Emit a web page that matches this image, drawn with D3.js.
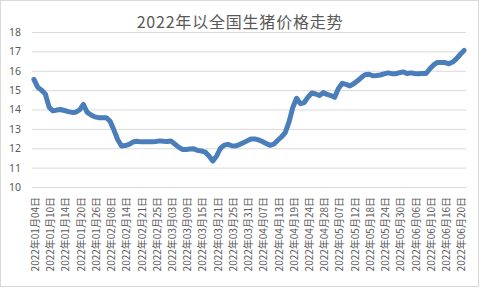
<!DOCTYPE html>
<html>
<head>
<meta charset="utf-8">
<script src="https://cdn.jsdelivr.net/npm/d3@7"></script>
<style>
  html, body { margin: 0; padding: 0; background: #fff; }
  svg text { font-family: "Noto Sans CJK SC", "Noto Sans", sans-serif; fill: #595959; }
</style>
</head>
<body>
<div id="chart"></div>
<script>
const title = '2022年以全国生猪价格走势';

// trading days, 2022
const dates = [
  '2022年01月04日','2022年01月05日','2022年01月06日','2022年01月07日','2022年01月10日','2022年01月11日',
  '2022年01月12日','2022年01月13日','2022年01月14日','2022年01月17日','2022年01月18日','2022年01月19日',
  '2022年01月20日','2022年01月21日','2022年01月24日','2022年01月25日','2022年01月26日','2022年01月27日',
  '2022年01月28日','2022年02月07日','2022年02月08日','2022年02月09日','2022年02月10日','2022年02月11日',
  '2022年02月14日','2022年02月15日','2022年02月16日','2022年02月17日','2022年02月21日','2022年02月22日',
  '2022年02月23日','2022年02月24日','2022年02月25日','2022年02月28日','2022年03月01日','2022年03月02日',
  '2022年03月03日','2022年03月04日','2022年03月07日','2022年03月08日','2022年03月09日','2022年03月10日',
  '2022年03月11日','2022年03月14日','2022年03月15日','2022年03月16日','2022年03月17日','2022年03月18日',
  '2022年03月21日','2022年03月22日','2022年03月23日','2022年03月24日','2022年03月25日','2022年03月28日',
  '2022年03月29日','2022年03月30日','2022年03月31日','2022年04月01日','2022年04月02日','2022年04月06日',
  '2022年04月07日','2022年04月08日','2022年04月11日','2022年04月12日','2022年04月13日','2022年04月14日',
  '2022年04月15日','2022年04月18日','2022年04月19日','2022年04月20日','2022年04月21日','2022年04月22日',
  '2022年04月24日','2022年04月25日','2022年04月26日','2022年04月27日','2022年04月28日','2022年04月29日',
  '2022年05月05日','2022年05月06日','2022年05月07日','2022年05月09日','2022年05月10日','2022年05月11日',
  '2022年05月12日','2022年05月13日','2022年05月16日','2022年05月17日','2022年05月18日','2022年05月19日',
  '2022年05月20日','2022年05月23日','2022年05月24日','2022年05月25日','2022年05月26日','2022年05月27日',
  '2022年05月30日','2022年05月31日','2022年06月01日','2022年06月02日','2022年06月06日','2022年06月07日',
  '2022年06月08日','2022年06月09日','2022年06月10日','2022年06月13日','2022年06月14日','2022年06月15日',
  '2022年06月16日','2022年06月17日','2022年06月18日','2022年06月19日','2022年06月20日','2022年06月21日'
];

// price, yuan/kg
const prices = [
  15.55, 15.15, 15.00, 14.80, 14.12, 13.93, 13.97, 14.00, 13.95, 13.89, 13.85, 13.86,
  13.98, 14.26, 13.85, 13.72, 13.62, 13.58, 13.58, 13.58, 13.40, 12.95, 12.45, 12.12,
  12.14, 12.20, 12.32, 12.36, 12.33, 12.33, 12.33, 12.33, 12.35, 12.38, 12.36, 12.35,
  12.37, 12.22, 12.06, 11.94, 11.94, 11.96, 11.97, 11.89, 11.86, 11.80, 11.60, 11.34,
  11.60, 12.00, 12.16, 12.20, 12.13, 12.12, 12.19, 12.28, 12.38, 12.48, 12.48, 12.43,
  12.35, 12.25, 12.15, 12.21, 12.40, 12.58, 12.80, 13.35, 14.10, 14.58, 14.30, 14.36,
  14.64, 14.85, 14.80, 14.72, 14.87, 14.78, 14.72, 14.63, 15.08, 15.35, 15.30, 15.22,
  15.33, 15.48, 15.65, 15.80, 15.82, 15.74, 15.75, 15.78, 15.84, 15.89, 15.85, 15.84,
  15.90, 15.94, 15.86, 15.89, 15.86, 15.84, 15.86, 15.86, 16.10, 16.30, 16.43, 16.43,
  16.42, 16.36, 16.45, 16.62, 16.85, 17.05
];

const yTicks = [10, 11, 12, 13, 14, 15, 16, 17, 18];
const labelEvery = 4;

const width = 481, height = 289;
const margin = { top: 32, right: 15, bottom: 102, left: 32 };
const innerW = width - margin.left - margin.right;
const innerH = height - margin.top - margin.bottom;

const svg = d3.select('#chart').append('svg')
  .attr('width', width)
  .attr('height', height);

// chart frame
svg.append('rect')
  .attr('x', 0.5).attr('y', 0.5)
  .attr('width', 478).attr('height', 286)
  .attr('fill', '#fff')
  .attr('stroke', '#d9d9d9');

svg.append('text')
  .attr('x', 240)
  .attr('y', 28)
  .attr('text-anchor', 'middle')
  .attr('font-size', 16)
  .attr('letter-spacing', 0.8)
  .text(title);

const g = svg.append('g')
  .attr('transform', `translate(${margin.left},${margin.top})`);

const x = d3.scalePoint().domain(dates).range([0, innerW]).padding(0.5);
const y = d3.scaleLinear().domain([10, 18]).range([innerH, 0]);

// gridlines + y labels
const yAxisG = g.append('g')
  .call(d3.axisLeft(y).tickValues(yTicks).tickSize(-innerW).tickPadding(11).tickFormat(d3.format('d')));
yAxisG.select('.domain').remove();
yAxisG.selectAll('line').attr('stroke', '#d9d9d9');
yAxisG.selectAll('text').attr('font-size', 10.5).style('font-family', '"Noto Sans", sans-serif');

// x labels, rotated
const xAxisG = g.append('g')
  .attr('transform', `translate(0,${innerH})`)
  .call(d3.axisBottom(x).tickValues(dates.filter((d, i) => i % labelEvery === 0)).tickSize(0));
xAxisG.select('.domain').remove();
xAxisG.selectAll('text')
  .attr('font-size', 10)
  .attr('text-anchor', 'end')
  .attr('dy', '0.35em')
  .attr('transform', 'translate(1,10) rotate(-90)')
  .attr('x', 0).attr('y', 0);

const line = d3.line()
  .x((d, i) => x(dates[i]))
  .y(d => y(d));

g.append('path')
  .datum(prices)
  .attr('fill', 'none')
  .attr('stroke', '#4a7ebb')
  .attr('stroke-width', 5)
  .attr('stroke-linejoin', 'round')
  .attr('stroke-linecap', 'round')
  .attr('d', line);
</script>
</body>
</html>
